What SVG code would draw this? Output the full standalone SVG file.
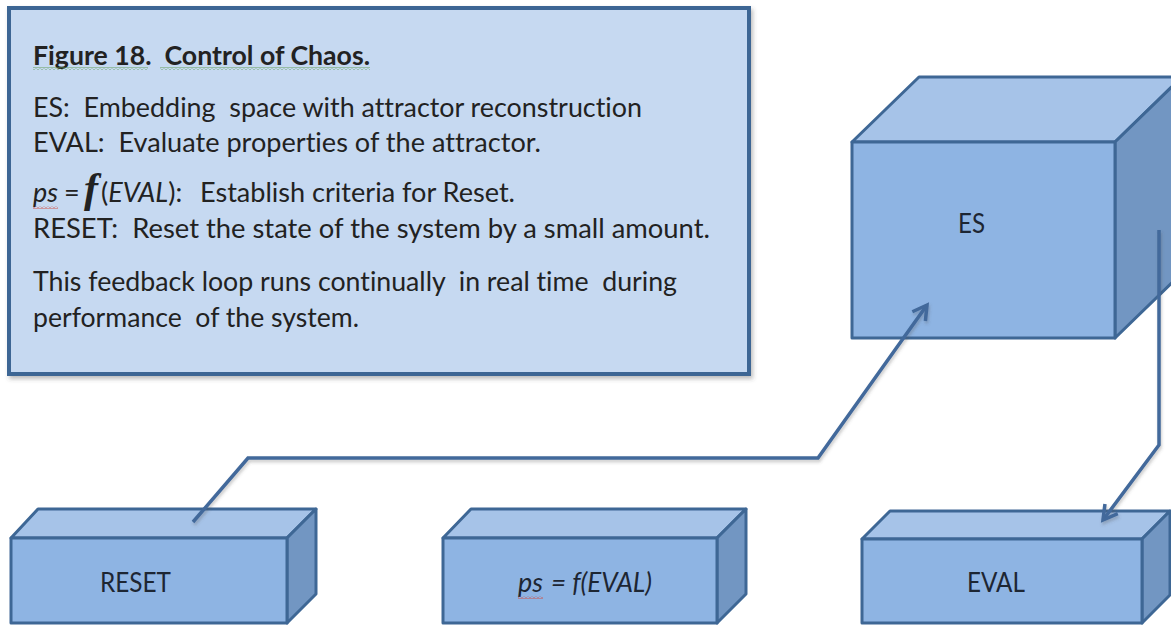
<svg xmlns="http://www.w3.org/2000/svg" width="1171" height="626" viewBox="0 0 1171 626">
  <defs>
    <style>
      .txt { font-family: Lato, "Liberation Sans", sans-serif; font-size: 27px; fill: #222222; white-space: pre; font-variant-ligatures: none; }
      .ttl { font-weight: bold; }
      .it { font-style: italic; }
      .fn { font-family: "Liberation Serif", serif; font-size: 42px; font-style: italic; font-weight: bold; }
      .lbl { font-family: Lato, "Liberation Sans", sans-serif; font-size: 27px; fill: #1d2633; white-space: pre; font-variant-ligatures: none; }
      .front { fill: #8eb4e3; stroke: #3e6795; stroke-width: 3; stroke-linejoin: round; }
      .top { fill: #a6c3e8; stroke: #3e6795; stroke-width: 3; stroke-linejoin: round; }
      .side { fill: #7296c2; stroke: #3e6795; stroke-width: 3; stroke-linejoin: round; }
      .conn { fill: none; stroke: #42699b; stroke-width: 3.5; stroke-linejoin: miter; filter: url(#lineShadow); }
      .panel { fill: #c6d9f1; stroke: #3d6694; stroke-width: 4; filter: url(#panelShadow); }
    </style>
    <filter id="panelShadow" x="-5%" y="-5%" width="110%" height="115%">
      <feDropShadow dx="2" dy="3" stdDeviation="2" flood-color="#404040" flood-opacity="0.35"/>
    </filter>
    <filter id="lineShadow" x="-10%" y="-10%" width="120%" height="120%">
      <feDropShadow dx="1" dy="2.5" stdDeviation="1.5" flood-color="#505050" flood-opacity="0.3"/>
    </filter>
    <marker id="arrow" markerUnits="userSpaceOnUse" markerWidth="26" markerHeight="26" viewBox="0 0 26 26" refX="21" refY="13" orient="auto">
      <path d="M7,5 L21,13 L7,21" fill="none" stroke="#42699b" stroke-width="3.5"/>
    </marker>
    <!-- spell-check style squiggles -->
    <pattern id="squiggleGreen" width="4" height="3" patternUnits="userSpaceOnUse">
      <path d="M0,2.5 L2,0.5 L4,2.5" fill="none" stroke="#5a9a4a" stroke-width="0.9"/>
    </pattern>
    <pattern id="squiggleRed" width="4" height="3" patternUnits="userSpaceOnUse">
      <path d="M0,2.5 L2,0.5 L4,2.5" fill="none" stroke="#d2473a" stroke-width="0.9"/>
    </pattern>
  </defs>

  <!-- explanatory panel -->
  <g id="legend">
    <rect class="panel" x="9" y="8" width="740" height="366"/>
    <text class="txt ttl" x="33" y="65" textLength="337" lengthAdjust="spacingAndGlyphs">Figure 18.  Control of Chaos.</text>
    <rect x="33" y="67" width="115" height="3" fill="url(#squiggleGreen)"/>
    <rect x="160" y="67" width="210" height="3" fill="url(#squiggleGreen)"/>
    <text class="txt" x="33" y="117" textLength="609" lengthAdjust="spacingAndGlyphs">ES:  Embedding  space with attractor reconstruction</text>
    <text class="txt" x="33" y="152" textLength="508" lengthAdjust="spacingAndGlyphs">EVAL:  Evaluate properties of the attractor.</text>
    <text class="txt" y="202"><tspan class="it" x="33" textLength="25" lengthAdjust="spacingAndGlyphs">ps</tspan><tspan x="64">=</tspan><tspan class="fn" x="84">f</tspan><tspan x="101">(</tspan><tspan class="it">EVAL</tspan><tspan>):</tspan><tspan x="200" textLength="315" lengthAdjust="spacingAndGlyphs">Establish criteria for Reset.</tspan></text>
    <rect x="33" y="206" width="25" height="3" fill="url(#squiggleRed)"/>
    <text class="txt" x="33" y="238" textLength="677" lengthAdjust="spacingAndGlyphs">RESET:  Reset the state of the system by a small amount.</text>
    <text class="txt" x="33" y="291" textLength="644" lengthAdjust="spacingAndGlyphs">This feedback loop runs continually  in real time  during</text>
    <text class="txt" x="33" y="327" textLength="326" lengthAdjust="spacingAndGlyphs">performance  of the system.</text>
  </g>

  <!-- embedding space -->
  <g id="node-es">
    <polygon class="top" points="852,142 919,77 1182,77 1115,142"/>
    <polygon class="side" points="1115,142 1182,77 1182,273 1115,338"/>
    <rect class="front" x="852" y="142" width="263" height="196"/>
    <text class="lbl" x="958" y="233" textLength="27" lengthAdjust="spacingAndGlyphs">ES</text>
  </g>

  <!-- evaluation -->
  <g id="node-eval">
    <polygon class="top" points="862,539 890,511 1170,511 1142,539"/>
    <polygon class="side" points="1142,539 1170,511 1170,595 1142,623"/>
    <rect class="front" x="862" y="539" width="280" height="84"/>
    <text class="lbl" x="967" y="592" textLength="58" lengthAdjust="spacingAndGlyphs">EVAL</text>
  </g>

  <!-- reset criteria -->
  <g id="node-ps">
    <polygon class="top" points="443,538 471,509 746,509 717,538"/>
    <polygon class="side" points="717,538 746,509 746,594 717,623"/>
    <rect class="front" x="443" y="538" width="274" height="85"/>
    <text class="lbl it" y="592"><tspan x="518" textLength="25" lengthAdjust="spacingAndGlyphs">ps</tspan><tspan x="551" textLength="101" lengthAdjust="spacingAndGlyphs">= f(EVAL)</tspan></text>
    <rect x="518" y="596" width="25" height="3" fill="url(#squiggleRed)"/>
  </g>

  <!-- reset -->
  <g id="node-reset">
    <polygon class="top" points="11,538 38,509 316,509 287,538"/>
    <polygon class="side" points="287,538 316,509 316,594 287,623"/>
    <rect class="front" x="11" y="538" width="276" height="85"/>
    <text class="lbl" x="100" y="592" textLength="71" lengthAdjust="spacingAndGlyphs">RESET</text>
  </g>

  <!-- feedback loop -->
  <g id="connectors">
    <polyline class="conn" points="1159,230 1159,445 1103,520" marker-end="url(#arrow)"/>
    <line class="conn" x1="862" y1="577" x2="740" y2="577" marker-end="url(#arrow)"/>
    <line class="conn" x1="443" y1="577" x2="307" y2="577" marker-end="url(#arrow)"/>
    <polyline class="conn" points="193,522 248,458 818,458 927,305" marker-end="url(#arrow)"/>
  </g>
</svg>
